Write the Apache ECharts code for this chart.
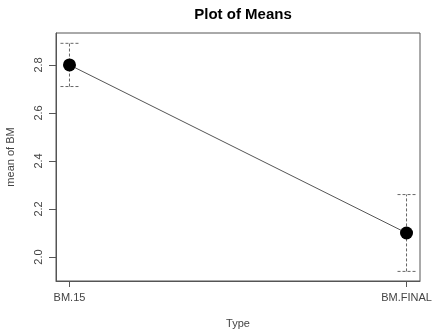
<!DOCTYPE html>
<html><head><meta charset="utf-8">
<script src="https://cdn.jsdelivr.net/npm/echarts@6/dist/echarts.min.js"></script>
<style>html,body{margin:0;padding:0;background:#fff}#c{width:440px;height:332px}</style>
</head><body><div id="c"></div>
<script>
const categories = ['BM.15', 'BM.FINAL'];
const means = [2.80, 2.10];
const lower = [2.71, 1.94];
const upper = [2.89, 2.26];
const yTicks = [2.0, 2.2, 2.4, 2.6, 2.8];

const pos = categories.map((c, i) => i + 1);
const lineData = pos.map((p, i) => [p, means[i]]);
const errData = pos.map((p, i) => [p, lower[i], upper[i]]);

const chart = echarts.init(document.getElementById('c'), null, {renderer: 'canvas'});
const font = 'Liberation Sans, Arial, sans-serif';
chart.setOption({
  animation: false,
  backgroundColor: '#fff',
  title: {text: 'Plot of Means', left: 238, top: 2, textAlign: 'center',
    textStyle: {fontFamily: font, fontSize: 15, fontWeight: 'bold', color: '#000'}},
  grid: {left: 56, top: 33, right: 20, bottom: 51, containLabel: false, outerBoundsMode: 'none',
    show: true, borderColor: '#555', borderWidth: 1},
  xAxis: {type: 'value', min: 0.96, max: 2.04,
    name: 'Type', nameLocation: 'middle', nameGap: 37,
    nameTextStyle: {fontFamily: font, fontSize: 11, color: '#444'},
    splitLine: {show: false},
    axisLine: {show: true, lineStyle: {color: '#555'}},
    axisTick: {show: true, customValues: pos, length: 6, lineStyle: {color: '#555'}},
    axisLabel: {customValues: pos, formatter: v => categories[Math.round(v) - 1], margin: 11,
      fontFamily: font, fontSize: 11, color: '#444'}},
  yAxis: {type: 'value', min: 1.9, max: 2.933,
    name: 'mean of BM', nameLocation: 'middle', nameGap: 40,
    nameTextStyle: {fontFamily: font, fontSize: 11, color: '#444'},
    splitLine: {show: false},
    axisLine: {show: true, lineStyle: {color: '#555'}},
    axisTick: {show: true, customValues: yTicks, length: 7, lineStyle: {color: '#555'}},
    axisLabel: {customValues: yTicks, formatter: v => v.toFixed(1), rotate: 90, margin: 12,
      fontFamily: font, fontSize: 11, color: '#444'}},
  series: [
    {type: 'custom', data: errData, z: 1,
      renderItem: function (params, api) {
        const x = api.value(0);
        const lo = api.coord([x, api.value(1)]);
        const hi = api.coord([x, api.value(2)]);
        const style = {stroke: '#666', lineWidth: 1, lineDash: [3, 2]};
        const w = 9;
        return {type: 'group', children: [
          {type: 'line', shape: {x1: lo[0], y1: lo[1], x2: hi[0], y2: hi[1]}, style: style},
          {type: 'line', shape: {x1: lo[0] - w, y1: lo[1], x2: lo[0] + w, y2: lo[1]}, style: style},
          {type: 'line', shape: {x1: hi[0] - w, y1: hi[1], x2: hi[0] + w, y2: hi[1]}, style: style}
        ]};
      }},
    {type: 'line', data: lineData, z: 2, symbol: 'circle', symbolSize: 13,
      lineStyle: {color: '#555', width: 1},
      itemStyle: {color: '#000', borderWidth: 0}}
  ]
});
</script></body></html>
